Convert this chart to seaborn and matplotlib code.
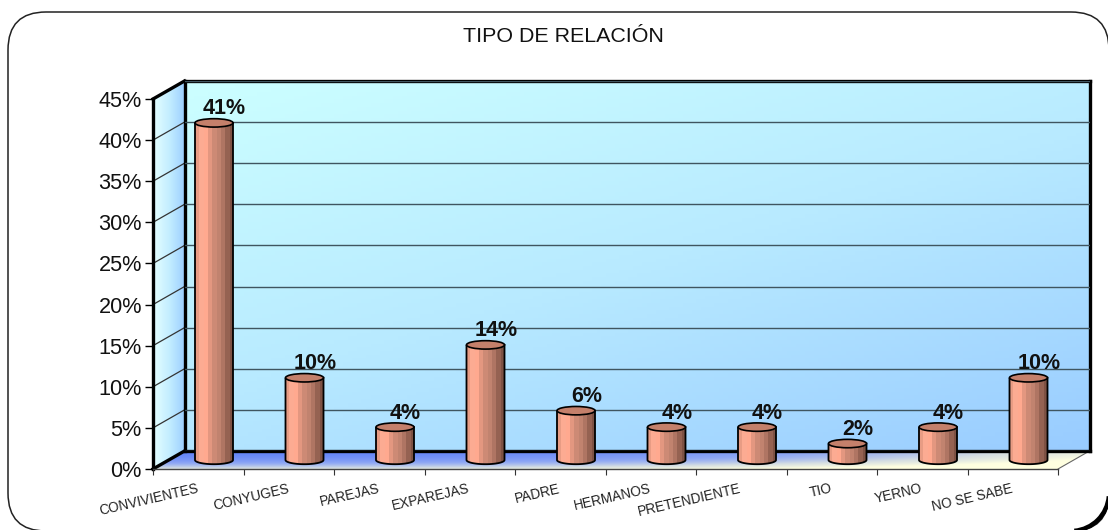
import numpy as np
import pandas as pd
import matplotlib
matplotlib.use("Agg")
import matplotlib.pyplot as plt
import seaborn as sns
from matplotlib.colors import LinearSegmentedColormap
from matplotlib.patches import FancyBboxPatch, Polygon, PathPatch, Ellipse, Arc
from matplotlib.path import Path

categories = ["CONVIVIENTES", "CONYUGES", "PAREJAS", "EXPAREJAS", "PADRE",
              "HERMANOS", "PRETENDIENTE", "TIO", "YERNO", "NO SE SABE"]
values = [41, 10, 4, 14, 6, 4, 4, 2, 4, 10]
y_ticks = [0, 5, 10, 15, 20, 25, 30, 35, 40, 45]
title = "TIPO DE RELACIÓN"

sns.set_theme(style="white")
plt.rcParams["font.family"] = ["Liberation Sans", "DejaVu Sans"]

W, H = 1108, 530
fig = plt.figure(figsize=(W / 100, H / 100), dpi=100, facecolor="white")


def axes_px(x0, x1, ytop, ybot, z):
    a = fig.add_axes([x0 / W, 1 - ybot / H, (x1 - x0) / W, (ybot - ytop) / H])
    a.set_zorder(z)
    a.patch.set_visible(False)
    return a


FX0, FX1, FY0, FY45 = 153, 1058, 469, 99
DX, DY = 31.5, 18

# decoration layer in pixel coordinates
bg = axes_px(0, W, 0, H, 0)
bg.set_xlim(0, W)
bg.set_ylim(H, 0)
bg.axis("off")

R = 38
BR, BB = 1109, 531
bg.add_patch(FancyBboxPatch((8 + R, 12 + R), BR - 8 - 2 * R, BB - 12 - 2 * R,
                            boxstyle=f"round,pad={R},rounding_size={R}",
                            fc="white", ec="#222222", lw=1.1, clip_on=True))
bg.add_patch(Arc((BR - R, BB - R), 2 * R, 2 * R, theta1=5, theta2=85, ec="black", lw=3.2))


def grad(ax, xa, xb, ya, yb, arr, cmap, clip):
    im = ax.imshow(arr, extent=(xa, xb, yb, ya), cmap=cmap, vmin=0, vmax=1,
                   aspect="auto", interpolation="bilinear", zorder=1)
    im.set_clip_path(clip)


xx, yy = np.meshgrid(np.linspace(0, 1, 200), np.linspace(0, 1, 100))

# side wall
side_pts = [(FX0, FY0), (FX0 + DX, FY0 - DY), (FX0 + DX, FY45 - DY), (FX0, FY45)]
side = Polygon(side_pts, closed=True, fc="none", ec="none", zorder=1)
bg.add_patch(side)
side_map = LinearSegmentedColormap.from_list("s", ["#E6FFFF", "#C4EEFF", "#9CCFFF"])
grad(bg, FX0, FX0 + DX, FY45 - DY, FY0, xx, side_map, side)

# floor
floor_pts = [(FX0, FY0), (FX0 + DX, FY0 - DY), (FX1 + DX, FY0 - DY), (FX1, FY0)]
floor = Polygon(floor_pts, closed=True, fc="none", ec="none", zorder=1)
bg.add_patch(floor)
floor_map = LinearSegmentedColormap.from_list("f", ["#6485F8", "#8FA8F4", "#D5DEE2", "#FFFFE0"])
grad(bg, FX0, FX1 + DX, FY0 - DY, FY0, np.clip(0.72 * yy ** 2.0 + 0.85 * xx ** 2.6, 0, 1), floor_map, floor)

# side wall grid and thick edges
for t in y_ticks[1:]:
    yp = FY0 - t * (FY0 - FY45) / 45
    bg.plot([FX0, FX0 + DX], [yp, yp - DY], color="#333333", lw=0.9, zorder=2)
for a, b in [((FX0, FY0), (FX0 + DX, FY0 - DY)), ((FX0, FY45), (FX0 + DX, FY45 - DY)),
             ((FX0, FY0), (FX0, FY45))]:
    bg.plot([a[0], b[0]], [a[1], b[1]], color="black", lw=2.4, zorder=3, solid_capstyle="projecting")
bg.plot([FX1, FX1 + DX], [FY0, FY0 - DY], color="#666666", lw=0.8, zorder=3)

# back wall with grid
back = axes_px(FX0 + DX, FX1 + DX, FY45 - DY, FY0 - DY, 1)
wall_map = LinearSegmentedColormap.from_list("w", ["#CCFFFF", "#B8EAFF", "#99CCFF"])
back.imshow((xx * 0.55 + yy * 0.75) / 1.3, extent=(0, 1, 0, 1), cmap=wall_map, vmin=0, vmax=1,
            aspect="auto", transform=back.transAxes, zorder=0)
back.set_xlim(0, 1)
back.set_ylim(0, 45)
back.set_xticks([])
back.set_yticks(y_ticks)
back.tick_params(left=False, labelleft=False)
back.grid(axis="y", color="#3F5560", lw=1.0, zorder=1)
back.set_axisbelow(False)
for s in back.spines.values():
    s.set_visible(True)
    s.set_color("black")
    s.set_linewidth(2.4)

# front plane: axes, ticks, labels
front = axes_px(FX0, FX1, FY45, FY0, 2)
front.set_xlim(-0.5, len(categories) - 0.5)
front.set_ylim(0, 45)
front.set_yticks(y_ticks)
front.set_yticklabels([f"{t}%" for t in y_ticks], fontsize=15.6, color="#111111")
front.tick_params(axis="y", left=True, length=5.5, width=1.0, color="black", pad=2.5)
front.set_xticks(range(len(categories)))
front.set_xticklabels(categories, fontsize=9.8, rotation=13, ha="right",
                      rotation_mode="anchor", va="center", color="#222222")
front.set_xticks(np.arange(len(categories) + 1) - 0.5, minor=True)
front.tick_params(axis="x", which="major", bottom=False, length=0, pad=14)
front.tick_params(axis="x", which="minor", bottom=True, length=4.5, width=0.8, color="#333333")
for k, s in front.spines.items():
    s.set_visible(k == "bottom")
front.spines["bottom"].set_color("#444444")
front.spines["bottom"].set_linewidth(1.0)

# bars, on the plane halfway through the depth
mid = axes_px(FX0 + DX / 2, FX1 + DX / 2, FY45 - DY / 2, FY0 - DY / 2, 3)
df = pd.DataFrame({"categoria": categories, "valor": values})
sns.barplot(data=df, x="categoria", y="valor", color="#C98570", width=0.42, saturation=1,
            ax=mid, edgecolor="none")
mid.set_xlim(-0.5, len(categories) - 0.5)
mid.set_ylim(0, 45)
mid.axis("off")

cyl_map = LinearSegmentedColormap.from_list(
    "c", ["#E89C84", "#FFAE94", "#FFA88E", "#D48E78", "#C78873", "#B87C69", "#9A6555", "#7E5244"])
ry = 4.2 * 45 / (FY0 - FY45)
for bar, v in zip(list(mid.patches), values):
    x0, w = bar.get_x(), bar.get_width()
    cx = x0 + w / 2
    th = np.linspace(np.pi, 2 * np.pi, 40)
    xs = np.r_[x0, cx + w / 2 * np.cos(th), x0 + w, x0]
    ys = np.r_[v, ry * np.sin(th), v, v]
    body = Path(np.c_[xs, ys], closed=False)
    outline = PathPatch(body, fc="none", ec="none", transform=mid.transData, clip_on=False)
    mid.add_patch(outline)
    im = mid.imshow(np.linspace(0, 1, 9)[None, :], extent=(x0, x0 + w, -ry, v), cmap=cyl_map,
                    aspect="auto", interpolation="nearest", zorder=4)
    im.set_clip_box(fig.bbox)
    im.set_clip_path(outline)
    mid.add_patch(PathPatch(body, fc="none", ec="black", lw=1.3, zorder=5, clip_on=False))
    mid.add_patch(Ellipse((cx, v), w, 2 * ry, fc="#C4806B", ec="black", lw=1.2, zorder=6, clip_on=False))
    mid.annotate(f"{v}%", (cx, v), xytext=(7.5, 10), textcoords="offset points", ha="center",
                 va="center", fontsize=15.5, fontweight="bold", color="#111111",
                 zorder=7, annotation_clip=False)
mid.set_xlim(-0.5, len(categories) - 0.5)
mid.set_ylim(0, 45)

fig.text(563 / W, 1 - 36 / H, title, fontsize=15.4, color="#111111", ha="center", va="center")

fig.savefig("out.png", dpi=100, facecolor="white")
